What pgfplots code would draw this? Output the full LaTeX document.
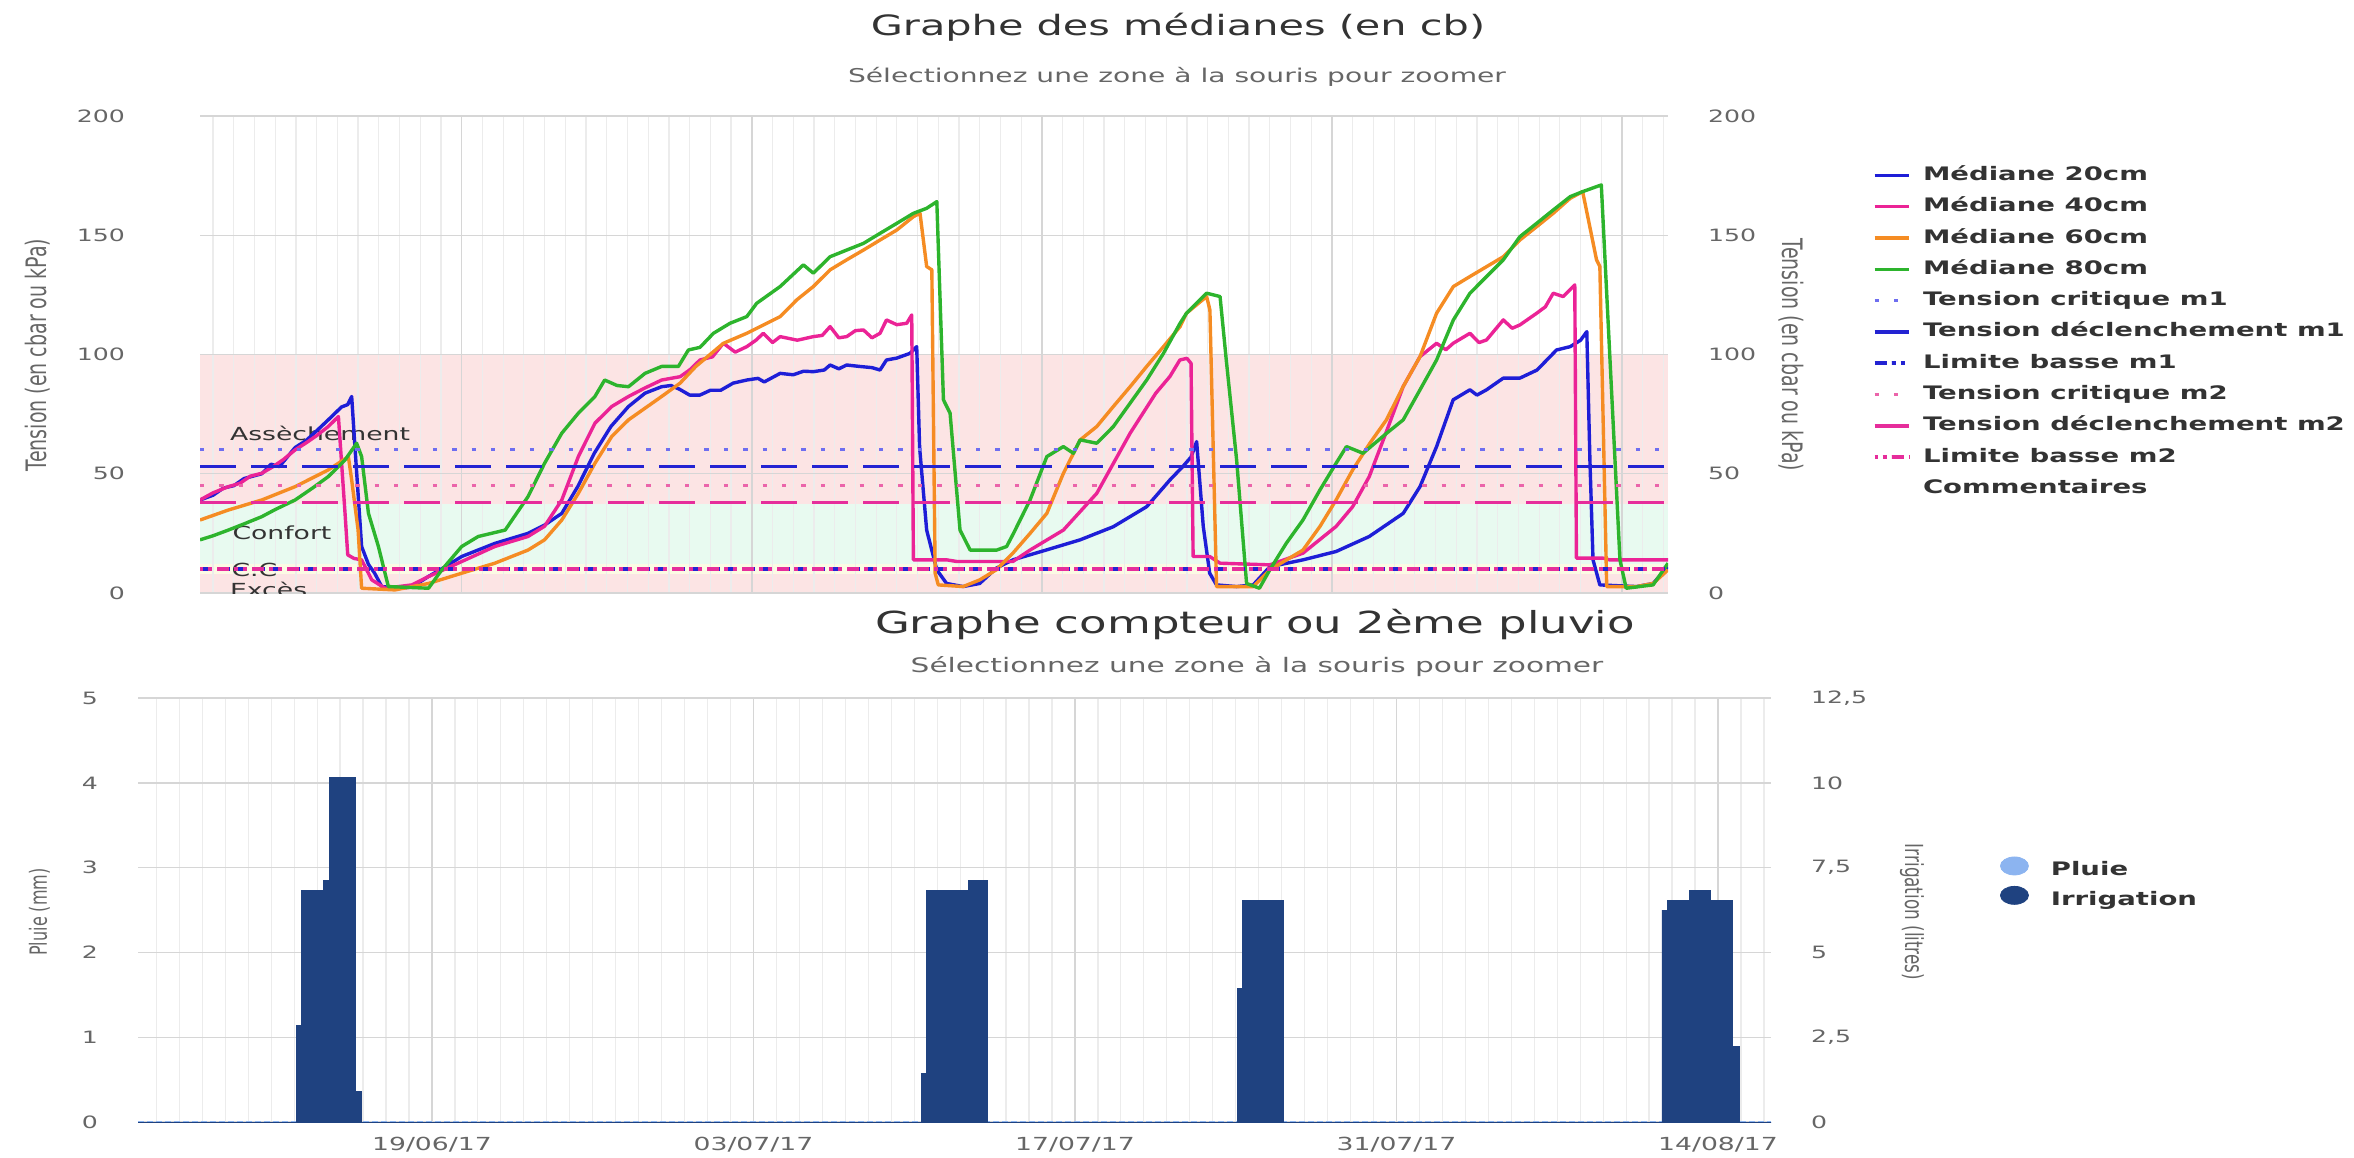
\documentclass[border=0pt]{standalone}
\usepackage{fontspec}
\setmainfont{DejaVu Sans}[FakeStretch=1.48]
\newfontfamily\rotfont{DejaVu Sans}
\usepackage{graphicx}
\usepackage{pgfplots}
\pgfplotsset{compat=1.18}
\pgfplotsset{set layers}
\definecolor{c20}{RGB}{30,30,215}
\definecolor{c40}{RGB}{235,35,150}
\definecolor{c60}{RGB}{245,140,35}
\definecolor{c80}{RGB}{45,180,45}
\definecolor{m1dot}{RGB}{110,110,240}
\definecolor{m1}{RGB}{35,35,210}
\definecolor{m2dot}{RGB}{235,100,170}
\definecolor{m2}{RGB}{230,45,155}
\definecolor{bandpink}{RGB}{252,228,228}
\definecolor{bandgreen}{RGB}{232,250,240}
\definecolor{bandyellow}{RGB}{252,250,228}
\definecolor{gridmajor}{RGB}{214,214,214}
\definecolor{gridminor}{RGB}{236,236,236}
\definecolor{ticktext}{RGB}{102,102,102}
\definecolor{titletext}{RGB}{51,51,51}
\definecolor{irrig}{RGB}{31,66,128}
\definecolor{pluie}{RGB}{140,180,240}
\pgfplotsset{hcbase/.style={scale only axis, axis line style={draw=none},
  major tick length=0pt, minor tick length=0pt, tick style={draw=none},
  /pgf/number format/assume math mode=true,
  tick label style={font=\fontsize{8.5}{10}\selectfont, text=ticktext}},
  hcgrid/.style={xmajorgrids, xminorgrids, ymajorgrids,
  major x grid style={gridmajor, line width=0.8pt},
  minor x grid style={gridminor, line width=0.6pt},
  major y grid style={gridmajor, line width=0.7pt}},
  med/.style={line width=1.7pt, line join=round}}
\begin{document}
\begin{tikzpicture}[x=1pt,y=1pt]
% ---------- titles
\node[text=titletext, font=\fontsize{14}{17}\selectfont] at (589,-13.75) {Graphe des médianes (en cb)};
\node[text=ticktext, font=\fontsize{9.5}{11}\selectfont] at (588.5,-38.5) {Sélectionnez une zone à la souris pour zoomer};
\node[text=titletext, font=\fontsize{15.2}{18}\selectfont] at (627.5,-312.2) {Graphe compteur ou 2ème pluvio};
\node[text=ticktext, font=\fontsize{10}{12}\selectfont] at (628.5,-333.5) {Sélectionnez une zone à la souris pour zoomer};
% ---------- axis labels
\node[rotate=90, text=ticktext] at (19,-177.5) {\rotfont\fontsize{9.5}{11}\selectfont\scalebox{1}[1.48]{Tension (en cbar ou kPa)}};
\node[rotate=-90, text=ticktext] at (895.5,-177.5) {\rotfont\fontsize{9.5}{11}\selectfont\scalebox{1}[1.48]{Tension (en cbar ou kPa)}};
\node[rotate=90, text=ticktext] at (19.75,-456) {\rotfont\fontsize{8}{10}\selectfont\scalebox{1}[1.48]{Pluie (mm)}};
\node[rotate=-90, text=ticktext] at (956,-456) {\rotfont\fontsize{8.4}{10}\selectfont\scalebox{1}[1.48]{Irrigation (litres)}};

% ================= TOP CHART
\begin{axis}[hcbase, hcgrid, at={(100pt,-296.5pt)}, anchor=south west,
  width=734pt, height=238.5pt,
  xmin=5.37, xmax=76.22, ymin=0, ymax=200,
  xtick={18,32,46,60,74}, xticklabels={}, minor xtick={6,...,76},
  ytick={0,50,100,150,200},
  yticklabel style={xshift=-34pt},
  legend cell align=left,
  legend style={draw=none, fill=none, at={(axis description cs:1.139,0.8994)}, anchor=north west,
    font=\fontsize{9.3}{11}\selectfont\bfseries, text=titletext, row sep=4.65pt, inner sep=0pt,
    nodes={inner sep=1pt, text height=7pt, text depth=2pt},
    /tikz/every odd column/.append style={column sep=5pt}}]
% bands
\addplot[draw=none, fill=bandpink, on layer=axis background, forget plot] coordinates {(5.37,100) (76.22,100)} \closedcycle;
\addplot[draw=none, fill=bandgreen, on layer=axis background, forget plot] coordinates {(5.37,37.5) (76.22,37.5)} \closedcycle;
\addplot[draw=none, fill=bandyellow, on layer=axis background, forget plot] coordinates {(5.37,12) (76.22,12)} \closedcycle;
\addplot[draw=none, fill=bandpink, on layer=axis background, forget plot] coordinates {(5.37,8) (76.22,8)} \closedcycle;
\node[anchor=west, font=\fontsize{9}{10}\selectfont, text=titletext] at (axis cs:6.48,67) {Assèchement};
\node[anchor=west, font=\fontsize{9}{10}\selectfont, text=titletext] at (axis cs:6.6,25.4) {Confort};
\node[anchor=west, font=\fontsize{9}{10}\selectfont, text=titletext] at (axis cs:6.55,9.6) {C.C};
\node[anchor=west, font=\fontsize{9}{10}\selectfont, text=titletext] at (axis cs:6.48,1.5) {Excès};
% Médiane 20cm
\addplot[c20, med] coordinates {
(5.37,39) (6.0,41) (6.5,44) (7.0,45) (7.5,48) (8.35,50) (8.8,54) (9.2,53) (9.96,61) (10.5,64) (11.0,68) (11.56,72.6) (12.2,78) (12.5,79) (12.69,82.4) (12.85,61) (13.17,19.5) (13.5,12) (13.8,8.3) (14.14,2.7) (15.0,2) (15.6,2.5) (16.39,6.9) (17.2,11) (18,15.3) (19.6,20.8) (21.2,25) (22.0,28.5) (22.83,33.4) (23.6,44.6) (24.4,58.6) (25.2,69.8) (26.05,78.2) (26.85,83.8) (27.65,86.5) (28.1,87) (28.5,85.5) (29.0,83) (29.5,83) (30.0,85) (30.5,85) (31.1,88) (31.76,89.3) (32.3,90) (32.6,88.5) (33.37,92.1) (34.0,91.5) (34.5,93) (34.97,92.8) (35.5,93.5) (35.78,95.6) (36.2,94) (36.58,95.6) (37.2,95) (37.8,94.5) (38.19,93.5) (38.5,97.7) (39.0,98.5) (39.64,100.5) (39.96,103.3) (40.1,61) (40.44,26.4) (40.93,9.7) (41.4,4) (42.2,2.7) (43,4) (43.8,10.4) (44.6,13.9) (46.2,18) (47.85,22.3) (49.45,27.8) (51.06,36.2) (52.18,47.4) (52.8,53) (53.2,57) (53.47,63.5) (53.79,27.9) (54.1,8.3) (54.43,3.4) (55.4,2.7) (56.2,3.4) (57,11) (58.6,13.9) (60.2,17.4) (61.8,23.7) (63.44,33.4) (64.25,44.6) (65.05,61.4) (65.85,81) (66.66,85.2) (67.0,83) (67.46,85.2) (68.27,90.1) (69.07,90.1) (69.9,93.5) (70.84,101.9) (71.5,103.3) (72.0,106) (72.3,109.6) (72.45,55.8) (72.6,13.9) (72.93,3.4) (74.7,2.7) (75.5,4) (76.22,11)};
\addlegendentry{Médiane 20cm}
% Médiane 40cm
\addplot[c40, med] coordinates {
(5.37,39) (6.0,42) (6.74,44.6) (7.3,46) (7.8,49) (8.35,50.2) (8.9,53) (9.4,56) (9.96,60) (10.5,63) (11.0,66) (11.56,69.8) (12.05,74) (12.37,33.4) (12.5,16) (12.8,14.5) (13.17,13.9) (13.66,5.5) (14.3,2) (15.6,3.4) (16.4,6.9) (18,13.2) (19.6,19.5) (21.2,23.7) (22.0,28) (22.83,39) (23.63,57.2) (24.43,71.2) (25.24,78.2) (26.05,82.4) (26.85,86) (27.65,89.3) (28.54,90.7) (29.0,93.5) (29.5,97.7) (30.1,99) (30.63,104.7) (31.2,101) (31.76,103.3) (32.2,106) (32.56,108.9) (33.0,105) (33.37,107.5) (34.2,106) (34.97,107.5) (35.4,108) (35.78,111.7) (36.2,107) (36.58,107.5) (37.0,110) (37.39,110.3) (37.8,107) (38.19,108.9) (38.5,114.5) (39.0,112.5) (39.48,113.1) (39.72,116.6) (39.8,13.9) (41.41,13.9) (41.9,13.2) (44.6,13.2) (45.43,18) (47.04,26.4) (48.65,41.8) (50.26,67) (51.5,83.8) (52.18,90.8) (52.66,97.7) (53.0,98.4) (53.2,96.3) (53.3,15.3) (54.1,15.3) (54.6,12.5) (57,11.8) (58.6,16.7) (59.4,22.3) (60.2,27.9) (61,36.2) (61.8,48.8) (62.6,67) (63.44,86.6) (64.25,99.1) (65.05,104.7) (65.5,102) (65.85,104.7) (66.66,108.9) (67.1,105) (67.46,106.1) (68.27,114.5) (68.7,111) (69.07,112.4) (69.88,117.3) (70.3,120) (70.68,125.7) (71.16,124.3) (71.72,129.2) (71.8,14.6) (73.1,14.6) (73.4,13.9) (76.22,13.9)};
\addlegendentry{Médiane 40cm}
% Médiane 60cm
\addplot[c60, med] coordinates {
(5.37,30.6) (6.74,34.8) (8.35,39) (9.96,44.6) (11.56,51.6) (12.53,57.2) (12.69,47.4) (13.0,26.4) (13.17,2) (14.78,1.3) (16.4,4) (18,8.3) (19.6,12.5) (21.2,18) (22,22.3) (22.83,30.6) (23.63,41.8) (24.43,54.4) (25.24,65.6) (26.05,72.6) (27.65,82.4) (28.54,88) (29.3,95) (30.63,104.7) (31.76,108.9) (33.37,115.9) (34.17,122.9) (34.97,128.5) (35.78,135.5) (36.58,139.7) (37.39,143.8) (38.19,148) (39,152.2) (39.8,157.8) (40.12,159.2) (40.44,136.9) (40.69,135.5) (40.85,8.3) (41.0,3.4) (42.2,2.7) (43,5.5) (43.8,9.7) (44.6,16.7) (45.43,25) (46.24,33.4) (47.04,50.2) (47.85,64.2) (48.65,69.8) (49.45,78.2) (50.26,86.5) (51.06,95) (51.87,103.3) (52.67,111.7) (52.98,117.3) (53.95,124.3) (54.11,118.7) (54.43,2.7) (56.2,2.7) (57,9.7) (58.6,18) (59.42,27.9) (60.2,39) (61,51.6) (61.83,62.8) (62.63,72.6) (63.44,86.6) (64.25,99.1) (65.05,117.3) (65.86,128.5) (66.66,132.7) (68.27,141) (69.07,148) (69.88,153.6) (70.68,159.2) (71.5,165.5) (72.1,168.3) (72.77,139.7) (72.93,136.9) (73.26,2.7) (74.7,2.7) (75.5,4) (76.22,9.7)};
\addlegendentry{Médiane 60cm}
% Médiane 80cm
\addplot[c80, med] coordinates {
(5.37,22.3) (6.0,24) (6.74,26.4) (7.5,29) (8.35,32) (9.0,35) (9.96,39) (10.8,44) (11.56,48.8) (12.37,55.8) (12.93,62.8) (13.17,57.2) (13.5,33.4) (13.98,19.5) (14.46,2.7) (16.4,2) (17.04,9.7) (18,19.5) (18.8,23.7) (20.1,26.4) (21.2,40.4) (22,54.4) (22.83,67) (23.63,75.4) (24.43,82.4) (24.9,89.3) (25.5,87) (26.05,86.5) (26.85,92.1) (27.65,95) (28.46,95) (28.94,101.9) (29.5,103) (30.15,108.9) (30.95,113.1) (31.76,115.9) (32.24,121.5) (33.37,128.5) (34.49,137.6) (34.97,134.1) (35.78,141) (36.58,143.8) (37.39,146.6) (38.19,150.8) (39,155) (39.8,159.2) (40.44,161.3) (40.93,164.1) (41.25,81) (41.57,75.4) (42.05,26.4) (42.54,18) (43.82,18) (44.3,19.5) (44.63,25) (45.43,39) (46.24,57.2) (47.04,61.4) (47.52,58.6) (47.85,64.2) (48.65,62.8) (49.45,69.8) (50.26,79.6) (51.06,89.3) (51.87,100.5) (52.67,113.1) (52.98,117.3) (53.95,125.7) (54.6,124.3) (54.9,97.7) (55.4,55.8) (55.88,4) (56.5,2) (57,9.7) (57.8,20.9) (58.6,30.6) (59.42,43.2) (60.2,54.4) (60.7,61.4) (61.5,58.6) (62.64,67) (63.44,72.6) (64.25,85.2) (65.05,97.7) (65.86,114.5) (66.66,125.7) (68.27,139.7) (69.07,149.4) (69.88,155) (70.68,160.6) (71.5,166.2) (72.1,168.3) (73.0,171.1) (73.58,69.8) (73.9,13.9) (74.2,2) (75.5,3.4) (76.22,12.5)};
\addlegendentry{Médiane 80cm}
% thresholds m1
\addplot[m1dot, line width=1.5pt, dash pattern=on 2.2pt off 7.5pt] coordinates {(5.37,60) (76.22,60)};
\addlegendentry{Tension critique m1}
\addplot[m1, line width=1.8pt, dash pattern=on 18pt off 7.5pt] coordinates {(5.37,53) (76.22,53)};
\addlegendentry{Tension déclenchement m1}
\addplot[m1, line width=2.2pt, dash pattern=on 6pt off 2.5pt on 2pt off 2.5pt on 2pt off 2.5pt] coordinates {(5.37,10) (76.22,10)};
\addlegendentry{Limite basse m1}
% thresholds m2
\addplot[m2dot, line width=1.5pt, dash pattern=on 2.2pt off 7.5pt] coordinates {(5.37,45) (76.22,45)};
\addlegendentry{Tension critique m2}
\addplot[m2, line width=1.8pt, dash pattern=on 18pt off 7.5pt] coordinates {(5.37,38) (76.22,38)};
\addlegendentry{Tension déclenchement m2}
\addplot[m2, line width=2.2pt, dash pattern=on 6pt off 2.5pt on 2pt off 2.5pt on 2pt off 2.5pt, dash phase=9pt] coordinates {(5.37,10) (76.22,10)};
\addlegendentry{Limite basse m2}
\addlegendimage{empty legend}
\addlegendentry{Commentaires}
\end{axis}
% right axis top
\begin{axis}[hcbase, at={(100pt,-296.5pt)}, anchor=south west,
  width=734pt, height=238.5pt,
  xmin=5.37, xmax=76.22, ymin=0, ymax=200, hide x axis, axis y line*=right,
  ytick={0,50,100,150,200}, yticklabel style={xshift=16.5pt}]
\addplot[draw=none, forget plot] coordinates {(5.37,0) (76.22,0)};
\end{axis}

% ================= BOTTOM CHART
\begin{axis}[hcbase, hcgrid, at={(69pt,-561pt)}, anchor=south west,
  width=816.5pt, height=212pt,
  xmin=5.2, xmax=76.31, ymin=0, ymax=5,
  xtick={18,32,46,60,74}, xticklabels={19/06/17,03/07/17,17/07/17,31/07/17,14/08/17},
  minor xtick={6,...,76}, ytick={0,1,2,3,4,5},
  yticklabel style={xshift=-16.5pt},
  xticklabel style={yshift=-4pt, font=\fontsize{9}{10}\selectfont}]
% Pluie (mm): zero everywhere
\addplot[pluie, line width=1pt, dash pattern=on 3pt off 1.5pt, forget plot] coordinates {(5.2,0) (76.31,0)};
\end{axis}
\begin{axis}[hcbase, at={(69pt,-561pt)}, anchor=south west,
  width=816.5pt, height=212pt,
  xmin=5.2, xmax=76.31, ymin=0, ymax=12.5, hide x axis, axis y line*=right,
  ytick={0,2.5,5,7.5,10,12.5},
  yticklabel style={xshift=16.5pt, /pgf/number format/use comma},
  legend cell align=left,
  legend style={draw=none, fill=none, at={(axis description cs:1.140,0.627)}, anchor=north west,
    font=\fontsize{9.3}{11}\selectfont\bfseries, text=titletext, row sep=2pt, inner sep=0pt,
    nodes={inner sep=1pt, text height=7pt, text depth=2pt},
    /tikz/every odd column/.append style={column sep=10pt}}]
\addlegendimage{legend image code/.code={\fill[pluie] (7pt,2.5pt) ellipse[x radius=7pt, y radius=4.5pt];}}
\addlegendentry{Pluie}
\addplot[const plot, fill=irrig, draw=irrig, line width=0.4pt,
  legend image code/.code={\fill[irrig] (7pt,2.5pt) ellipse[x radius=7pt, y radius=4.5pt];}] coordinates {
(5.2,0) (12.1,2.86) (12.32,6.84) (13.27,7.13) (13.53,10.16) (14.65,0.89) (14.94,0)
(39.33,1.44) (39.55,6.84) (41.36,7.13) (42.19,0)
(53.07,3.94) (53.31,6.54) (55.08,0)
(71.56,6.25) (71.78,6.54) (72.76,6.84) (73.66,6.54) (74.64,2.22) (74.94,0) (76.31,0)} \closedcycle;
\addlegendentry{Irrigation}
\end{axis}
\pgfresetboundingbox
\path[use as bounding box] (0,0) rectangle (1177,-578.5);
\end{tikzpicture}
\end{document}
